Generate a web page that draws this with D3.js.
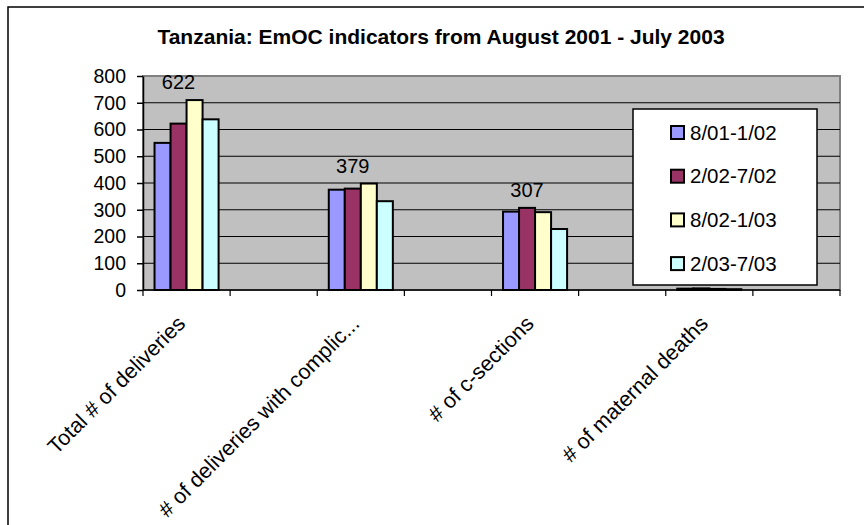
<!DOCTYPE html>
<html>
<head>
<meta charset="utf-8">
<script src="https://cdn.jsdelivr.net/npm/d3@7"></script>
<style>
  body { margin: 0; background: #fff; }
  svg { display: block; font-family: "Liberation Sans", Arial, sans-serif; }
</style>
</head>
<body>
<svg id="emocChart" width="864" height="525"></svg>
<script>
// categories (every other slot is an empty one, like the excel sheet)
var categories = [
    "Total # of deliveries", "",
    "# of deliveries with complic...", "",
    "# of c-sections", "",
    "# of maternal deaths", ""
];
var seriesNames = ["8/01-1/02", "2/02-7/02", "8/02-1/03", "2/03-7/03"];
var seriesColors = ["#9999ff", "#993366", "#ffffcc", "#ccffff"];
var period1 = [550, 375, 293, 5];
var period2 = [622, 379, 307, 6];
var period3 = [710, 398, 291, 4];
var period4 = [638, 332, 228, 3];
var yTicks = [0, 100, 200, 300, 400, 500, 600, 700, 800];
var labelledSeries = 1; // only 2/02-7/02 carries data labels
var labelledGroups = 3; // the last label sits under the legend

var values = [period1, period2, period3, period4];
// map values onto the category slots that actually hold data
var dataSlots = [0, 2, 4, 6];
var data = [];
dataSlots.forEach(function (slot, i) {
    data.push({
        cat: slot,
        values: values.map(function (v, s) { return { s: s, value: v[i] }; })
    });
});

var margin = { top: 76, right: 24, bottom: 235, left: 143 };
var width = 864;
var height = 525;
var svg = d3.select("#emocChart");

// outer chart border
svg.append("rect")
    .attr("x", 8).attr("y", 7)
    .attr("width", 900).attr("height", 600)
    .attr("fill", "#fff")
    .attr("stroke", "#000")
    .attr("stroke-width", 1.5);

svg.append("text")
    .attr("x", 441)
    .attr("y", 44)
    .attr("text-anchor", "middle")
    .style("font", "bold 21px 'Liberation Sans', Arial, sans-serif")
    .text("Tanzania: EmOC indicators from August 2001 - July 2003");

var x0 = d3.scaleBand()
    .domain(d3.range(categories.length))
    .range([margin.left, width - margin.right])
    .padding(0);
var x1 = d3.scaleBand()
    .domain(d3.range(seriesNames.length))
    .range([0, x0.bandwidth()])
    .paddingInner(0)
    .paddingOuter(0.72);
var y = d3.scaleLinear()
    .domain([0, 800])
    .range([height - margin.bottom, margin.top]);

var plotW = width - margin.right - margin.left;
var plotH = height - margin.bottom - margin.top;

// plot area
svg.append("rect")
    .attr("x", margin.left).attr("y", margin.top)
    .attr("width", plotW).attr("height", plotH)
    .attr("fill", "#c0c0c0")
    .attr("stroke", "#808080")
    .attr("stroke-width", 2);

// gridlines
svg.append("g")
    .selectAll("line")
    .data(yTicks.filter(function (t) { return t > 0 && t < 800; }))
    .join("line")
    .attr("x1", margin.left).attr("x2", width - margin.right)
    .attr("y1", function (d) { return y(d); })
    .attr("y2", function (d) { return y(d); })
    .attr("stroke", "#000")
    .attr("stroke-width", 1);

// bars
svg.append("g")
    .selectAll("g")
    .data(data)
    .join("g")
    .attr("transform", function (d) { return "translate(" + x0(d.cat) + ",0)"; })
    .selectAll("rect")
    .data(function (d) { return d.values; })
    .join("rect")
    .attr("x", function (d) { return x1(d.s); })
    .attr("y", function (d) { return y(d.value); })
    .attr("width", x1.bandwidth())
    .attr("height", function (d) { return y(0) - y(d.value); })
    .attr("fill", function (d) { return seriesColors[d.s]; })
    .attr("stroke", "#000")
    .attr("stroke-width", 2);

// data labels sit above the tallest bar of the group
svg.append("g")
    .attr("text-anchor", "middle")
    .style("font", "20px 'Liberation Sans', Arial, sans-serif")
    .selectAll("text")
    .data(data.slice(0, labelledGroups))
    .join("text")
    .attr("x", function (d) { return x0(d.cat) + x1(labelledSeries) + x1.bandwidth() / 2; })
    .attr("y", function (d) {
        return y(d3.max(d.values, function (v) { return v.value; })) - 11;
    })
    .text(function (d) { return d.values[labelledSeries].value; });

// y axis
var yAxis = function (g) { return g
    .attr("transform", "translate(" + margin.left + ",0)")
    .call(d3.axisLeft(y).tickValues(yTicks).tickSize(6).tickPadding(11).tickSizeOuter(0))
    .call(function (g) { g.select(".domain").attr("stroke-width", 1.5); })
    .call(function (g) { g.selectAll(".tick line").attr("stroke-width", 1.5); })
    .selectAll("text")
    .attr("fill", "#000")
    .style("font", "19.5px 'Liberation Sans', Arial, sans-serif"); };
svg.append("g").call(yAxis);

// x axis: ticks on the band edges
var xBase = y(0);
var xAxisG = svg.append("g");
xAxisG.append("line")
    .attr("x1", margin.left).attr("x2", width - margin.right)
    .attr("y1", xBase).attr("y2", xBase)
    .attr("stroke", "#000").attr("stroke-width", 1.5);
xAxisG.selectAll("line.tick")
    .data(d3.range(categories.length + 1))
    .join("line")
    .attr("class", "tick")
    .attr("x1", function (i) { return margin.left + i * x0.step(); })
    .attr("x2", function (i) { return margin.left + i * x0.step(); })
    .attr("y1", xBase).attr("y2", xBase + 6)
    .attr("stroke", "#000").attr("stroke-width", 1.2);
xAxisG.selectAll("text")
    .data(categories.map(function (c, i) { return { name: c, i: i }; })
        .filter(function (d) { return d.name !== ""; }))
    .join("text")
    .attr("text-anchor", "end")
    .attr("transform", function (d) {
        return "translate(" + (x0(d.i) + x0.bandwidth() / 2) + "," + (xBase + 35) + ") rotate(-45)";
    })
    .style("font", "21.5px 'Liberation Sans', Arial, sans-serif")
    .text(function (d) { return d.name; });

// legend
var legend = svg.append("g").attr("transform", "translate(633,109)");
legend.append("rect")
    .attr("width", 184).attr("height", 176)
    .attr("fill", "#fff")
    .attr("stroke", "#000")
    .attr("stroke-width", 1.5);
var item = legend.selectAll("g")
    .data(seriesNames)
    .join("g")
    .attr("transform", function (d, i) { return "translate(38," + (17 + i * 43.7) + ")"; });
item.append("rect")
    .attr("width", 13).attr("height", 13)
    .attr("fill", function (d, i) { return seriesColors[i]; })
    .attr("stroke", "#000")
    .attr("stroke-width", 2);
item.append("text")
    .attr("x", 19)
    .attr("y", 13.5)
    .style("font", "20.5px 'Liberation Sans', Arial, sans-serif")
    .text(function (d) { return d; });
</script>
</body>
</html>
